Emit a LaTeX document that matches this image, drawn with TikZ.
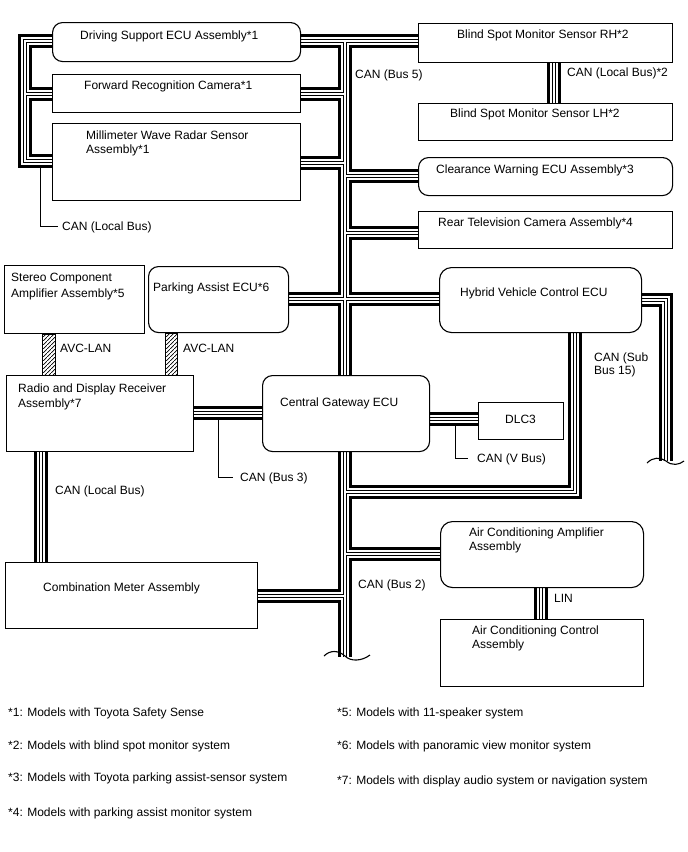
\documentclass[tikz,border=0pt]{standalone}
\usepackage{fontspec}
\setmainfont{Liberation Sans}
\usetikzlibrary{patterns.meta}
\pgfdeclarelayer{back}
\pgfdeclarelayer{bus}
\pgfsetlayers{back,bus,main}
\tikzdeclarepattern{
  name=hatchne,
  type=uncolored,
  bounding box={(0pt,0pt) and (3.6pt,3.6pt)},
  tile size={(3.6pt,3.6pt)},
  code={\draw[line width=0.75pt] (-1pt,-1pt) -- (4.6pt,4.6pt);}
}
\newcommand\busroutes[1]{%
 \draw[#1] (ds.west|-jL1) -- (jL1) -- (jL3) -- (mwr.west|-jL3);
 \draw[#1] (jL2) -- (frc.west|-jL2);
 \draw[#1] (ds.east|-jA) -- (bsr.west|-jA);
 \draw[#1] (jA) -- (jEnd);
 \draw[#1] (frc.east|-jB) -- (jB);
 \draw[#1] (mwr.east|-jC) -- (jC);
 \draw[#1] (jD) -- (cw.west|-jD);
 \draw[#1] (jE) -- (rtv.west|-jE);
 \draw[#1] (pa.east|-jF) -- (hv.west|-jF);
 \draw[#1] (hv.east|-jR1) -- (jR1) -- (jR2);
 \draw[#1] (hv.south-|jS) -- (jS) -- (jG);
 \draw[#1] (rad.east|-jX) -- (cg.west|-jX);
 \draw[#1] (cg.east|-jV) -- (dlc.west|-jV);
 \draw[#1] (rad.south-|jM) -- (cm.north-|jM);
 \draw[#1] (jH) -- (aca.west|-jH);
 \draw[#1] (cm.east|-jI) -- (jI);
 \draw[#1] (bsr.south-|jBS) -- (bsl.north-|jBS);
 \draw[#1] (aca.south-|jLIN) -- (acc.north-|jLIN);
}
\begin{document}
\begin{tikzpicture}[x=1pt,y=-1pt,
  box/.style={draw=black,line width=1.1pt,fill=white,inner sep=0pt,anchor=north west},
  rbox/.style={box,rounded corners=10pt},
  txt/.style={inner sep=0pt,anchor=base west,font=\fontsize{12}{14}\selectfont},
  lead/.style={draw=black,line width=0.9pt},
  wave/.style={draw=black,line width=1.1pt},
  avc/.style={draw=black,line width=1pt,pattern=hatchne},
  busA/.style={draw=black,line width=14.4pt},
  busB/.style={draw=white,line width=7.4pt},
  busC/.style={draw=black,line width=4.7pt},
  busD/.style={draw=white,line width=2.2pt}]

\begin{pgfonlayer}{back}
\fill[white] (0,0) rectangle (688,852);
\end{pgfonlayer}
\useasboundingbox (0,0) rectangle (688,852);

% boxes
\node[rbox,minimum width=248pt,minimum height=39pt] (ds) at (52,22) {};
\node[box,minimum width=248pt,minimum height=38pt] (frc) at (52,74) {};
\node[box,minimum width=248pt,minimum height=77pt] (mwr) at (52,123) {};
\node[box,minimum width=254pt,minimum height=39pt] (bsr) at (418,23) {};
\node[box,minimum width=254pt,minimum height=37pt] (bsl) at (418,103) {};
\node[rbox,minimum width=254pt,minimum height=38pt] (cw) at (418,157) {};
\node[box,minimum width=254pt,minimum height=37pt] (rtv) at (418,211) {};
\node[box,minimum width=140pt,minimum height=68pt] (sca) at (4,265) {};
\node[rbox,minimum width=140pt,minimum height=66pt] (pa) at (148,266) {};
\node[rbox,rounded corners=12pt,minimum width=202pt,minimum height=65pt] (hv) at (439,267) {};
\node[box,minimum width=187pt,minimum height=76pt] (rad) at (6,375) {};
\node[rbox,minimum width=167pt,minimum height=76pt] (cg) at (262,375) {};
\node[box,minimum width=85pt,minimum height=37pt] (dlc) at (478,402) {};
\node[box,minimum width=252pt,minimum height=66pt] (cm) at (5,562) {};
\node[rbox,rounded corners=12pt,minimum width=203pt,minimum height=66pt] (aca) at (440,521) {};
\node[box,minimum width=203pt,minimum height=67pt] (acc) at (440,619) {};

% bus junction points
\coordinate (jL1) at (25,41);
\coordinate (jL2) at (25,94);
\coordinate (jL3) at (25,161);
\coordinate (jA) at (345,41);
\coordinate (jB) at (345,94);
\coordinate (jC) at (345,163);
\coordinate (jD) at (345,176);
\coordinate (jE) at (345,233);
\coordinate (jF) at (345,299);
\coordinate (jG) at (345,492);
\coordinate (jH) at (345,554);
\coordinate (jI) at (345,596);
\coordinate (jEnd) at (345,657);
\coordinate (jR1) at (666,300);
\coordinate (jR2) at (666,461);
\coordinate (jS) at (575,492);
\coordinate (jX) at (218,413);
\coordinate (jV) at (455,419);
\coordinate (jM) at (41,500);
\coordinate (jBS) at (554,80);
\coordinate (jLIN) at (541,600);

\begin{pgfonlayer}{bus}
\busroutes{busA}
\busroutes{busB}
\busroutes{busC}
\busroutes{busD}
\end{pgfonlayer}

% bus break marks
\draw[wave] (324,656) .. controls (330,650) and (338,650) .. (345,656) .. controls (351,662) and (362,661) .. (370,655);
\draw[wave] (647,463) .. controls (653,457) and (660,457) .. (666,461) .. controls (672,466) and (679,465) .. (684,461);

% AVC-LAN
\coordinate (av1) at (42,350);
\coordinate (av2) at (55,350);
\coordinate (av3) at (165,350);
\coordinate (av4) at (177,350);
\path[avc] (sca.south-|av1) rectangle (rad.north-|av2);
\path[avc] (pa.south-|av3) rectangle (rad.north-|av4);

% leaders
\coordinate (l1a) at (40,168);
\coordinate (l1b) at (58,226);
\coordinate (l2a) at (218,420);
\coordinate (l2b) at (233,477);
\coordinate (l3a) at (455,426);
\coordinate (l3b) at (468,458);
\draw[lead] (l1a) |- (l1b);
\draw[lead] (l2a) |- (l2b);
\draw[lead] (l3a) |- (l3b);

% box texts
\node[txt] (t-ds) at (80,39.3) {Driving Support ECU Assembly*1};
\node[txt] (t-frc) at (84,89.3) {Forward Recognition Camera*1};
\node[txt] (t-mwr1) at (86,139.3) {Millimeter Wave Radar Sensor};
\node[txt] (t-mwr2) at (86,153.3) {Assembly*1};
\node[txt] (t-bsr) at (457,38.3) {Blind Spot Monitor Sensor RH*2};
\node[txt] (t-bsl) at (450,117.3) {Blind Spot Monitor Sensor LH*2};
\node[txt] (t-cw) at (436,173.3) {Clearance Warning ECU Assembly*3};
\node[txt] (t-rtv) at (438,226.3) {Rear Television Camera Assembly*4};
\node[txt] (t-sca1) at (11,281.3) {Stereo Component};
\node[txt] (t-sca2) at (11,297.3) {Amplifier Assembly*5};
\node[txt] (t-pa) at (153,291.3) {Parking Assist ECU*6};
\node[txt] (t-hv) at (460,296.3) {Hybrid Vehicle Control ECU};
\node[txt] (t-rad1) at (18,392.3) {Radio and Display Receiver};
\node[txt] (t-rad2) at (18,407.3) {Assembly*7};
\node[txt] (t-cg) at (280,406.3) {Central Gateway ECU};
\node[txt,anchor=base] (t-dlc) at (520.5,423.3) {DLC3};
\node[txt] (t-cm) at (43,591.3) {Combination Meter Assembly};
\node[txt] (t-aca1) at (469,536.3) {Air Conditioning Amplifier};
\node[txt] (t-aca2) at (469,550.3) {Assembly};
\node[txt] (t-acc1) at (472,634.3) {Air Conditioning Control};
\node[txt] (t-acc2) at (472,648.3) {Assembly};

% bus labels
\node[txt] (t-l1) at (62,230.3) {CAN (Local Bus)};
\node[txt] (t-bus5) at (355,78.3) {CAN (Bus 5)};
\node[txt] (t-lb2) at (567,76.3) {CAN (Local Bus)*2};
\node[txt] (t-sub1) at (594,361.3) {CAN (Sub};
\node[txt] (t-sub2) at (594,374.3) {Bus 15)};
\node[txt] (t-avc1) at (60,352.3) {AVC-LAN};
\node[txt] (t-avc2) at (183,352.3) {AVC-LAN};
\node[txt] (t-bus3) at (240,481.3) {CAN (Bus 3)};
\node[txt] (t-vbus) at (477,462.3) {CAN (V Bus)};
\node[txt] (t-lb3) at (55,494.3) {CAN (Local Bus)};
\node[txt] (t-bus2) at (358,588.3) {CAN (Bus 2)};
\node[txt] (t-lin) at (554,602.3) {LIN};

% footnotes
\node[txt] (f1) at (8,716.3) {*1: Models with Toyota Safety Sense};
\node[txt] (f2) at (8,749.3) {*2: Models with blind spot monitor system};
\node[txt] (f3) at (8,781.3) {*3: Models with Toyota parking assist-sensor system};
\node[txt] (f4) at (8,816.3) {*4: Models with parking assist monitor system};
\node[txt] (f5) at (337,716.3) {*5: Models with 11-speaker system};
\node[txt] (f6) at (337,749.3) {*6: Models with panoramic view monitor system};
\node[txt] (f7) at (337,784.3) {*7: Models with display audio system or navigation system};
\end{tikzpicture}
\end{document}
